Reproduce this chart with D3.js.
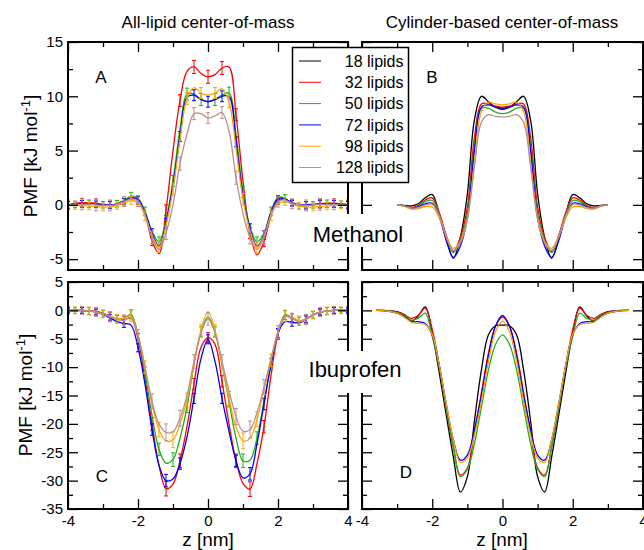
<!DOCTYPE html>
<html>
<head>
<meta charset="utf-8">
<script src="https://cdn.jsdelivr.net/npm/d3@7"></script>
<style>
    body { margin: 0; background: #fff; }
    svg { display: block; font-family: "Liberation Sans", Arial, sans-serif; }
</style>
</head>
<body>
<div id="chart"></div>
<script>
const lipidCounts = [18, 32, 50, 72, 98, 128];
const lipidColors = ["#000000", "#ff0000", "#1cb01c", "#0000ff", "#ffa500", "#bc8f8f"];

const xTicks = [-4, -2, 0, 2, 4];
const xMinorTicks = [-3, -1, 1, 3];
const yTicksMethanol = [-5, 0, 5, 10, 15];
const yMinorMethanol = [-2.5, 2.5, 7.5, 12.5];
const yTicksIbuprofen = [-35, -30, -25, -20, -15, -10, -5, 0, 5];
const yMinorIbuprofen = [-32.5, -27.5, -22.5, -17.5, -12.5, -7.5, -2.5, 2.5];

// z positions (nm) for the all-lipid profiles
const zAll = [-4.0, -3.8, -3.6, -3.4, -3.2, -3.0, -2.8, -2.6, -2.4, -2.2,
    -2.0, -1.8, -1.6, -1.4, -1.2, -1.0, -0.8, -0.6, -0.4, -0.2,
    0.0,
    0.2, 0.4, 0.6, 0.8, 1.0, 1.2, 1.4, 1.6, 1.8, 2.0,
    2.2, 2.4, 2.6, 2.8, 3.0, 3.2, 3.4, 3.6, 3.8, 4.0];

// panel A : methanol, all-lipid center-of-mass
const pmfA32 = [0.0, 0.15, 0.2, 0.2, 0.15, 0.05, 0.0, 0.05, 0.3, 0.6,
    0.4, -0.9, -3.3, -4.5, -0.5, 5.0, 9.6, 12.3, 12.7, 12.1,
    11.8,
    12.0, 12.6, 12.7, 8.3, 2.2, -2.6, -4.6, -3.4, -1.0, 0.4,
    0.5, 0.2, 0.0, -0.05, 0.0, 0.1, 0.15, 0.15, 0.1, 0.05];
const pmfA50 = [0.0, 0.05, 0.1, 0.1, 0.05, 0.0, -0.05, 0.1, 0.4, 0.8,
    0.6, -0.6, -2.4, -3.4, -1.4, 2.2, 7.0, 10.2, 10.2, 9.7,
    9.5,
    9.7, 10.1, 10.3, 6.5, 1.2, -2.0, -3.4, -2.6, -0.6, 0.7,
    0.6, 0.1, -0.1, -0.1, 0.0, 0.05, 0.1, 0.1, 0.05, 0.0];
const pmfA72 = [0.0, 0.05, 0.1, 0.1, 0.05, 0.0, 0.0, 0.1, 0.35, 0.65,
    0.5, -0.7, -2.6, -3.8, -1.7, 1.8, 6.3, 9.9, 10.1, 9.7,
    9.5,
    9.7, 10.0, 10.0, 5.8, 0.8, -2.2, -3.8, -2.8, -0.7, 0.55,
    0.55, 0.15, 0.0, 0.0, 0.05, 0.1, 0.1, 0.1, 0.05, 0.0];
const pmfA98 = [0.0, -0.05, -0.1, -0.1, -0.15, -0.2, -0.2, -0.1, 0.15, 0.4,
    0.2, -1.0, -2.8, -3.9, -1.9, 1.4, 6.0, 9.8, 10.8, 10.3,
    10.1,
    10.3, 10.7, 9.5, 5.2, 0.5, -2.4, -3.9, -2.9, -1.0, 0.1,
    0.3, 0.1, -0.1, -0.2, -0.2, -0.15, -0.1, -0.05, 0.0, 0.0];
const pmfA128 = [0.0, 0.0, 0.05, 0.05, 0.0, -0.05, -0.05, 0.05, 0.3, 0.55,
    0.35, -0.9, -3.0, -4.1, -2.6, 0.0, 3.8, 6.5, 8.4, 8.4,
    8.0,
    8.2, 8.5, 6.8, 2.5, -0.8, -3.0, -4.1, -3.0, -0.9, 0.3,
    0.45, 0.1, 0.0, -0.05, 0.0, 0.05, 0.05, 0.05, 0.0, 0.0];

const errA32 = [0.35, 0.35, 0.4, 0.4, 0.4, 0.35, 0.35, 0.3, 0.3, 0.3,
    0.35, 0.4, 0.45, 0.5, 0.5, 0.5, 0.55, 0.6, 0.6, 0.6,
    0.6,
    0.6, 0.6, 0.6, 0.55, 0.5, 0.5, 0.5, 0.45, 0.4, 0.35,
    0.3, 0.3, 0.3, 0.35, 0.35, 0.4, 0.4, 0.4, 0.35, 0.35];
const errA50 = [0.3, 0.3, 0.35, 0.35, 0.35, 0.3, 0.3, 0.3, 0.3, 0.35,
    0.4, 0.4, 0.45, 0.45, 0.5, 0.5, 0.5, 0.55, 0.55, 0.55,
    0.55,
    0.55, 0.55, 0.55, 0.5, 0.5, 0.5, 0.45, 0.45, 0.4, 0.4,
    0.35, 0.3, 0.3, 0.3, 0.3, 0.35, 0.35, 0.35, 0.3, 0.3];
const errA72 = [0.3, 0.3, 0.3, 0.3, 0.3, 0.3, 0.3, 0.25, 0.25, 0.3,
    0.3, 0.35, 0.4, 0.4, 0.45, 0.45, 0.45, 0.5, 0.5, 0.5,
    0.5,
    0.5, 0.5, 0.5, 0.45, 0.45, 0.45, 0.4, 0.4, 0.35, 0.3,
    0.3, 0.25, 0.25, 0.3, 0.3, 0.3, 0.3, 0.3, 0.3, 0.3];
const errA98 = [0.3, 0.35, 0.35, 0.35, 0.35, 0.35, 0.3, 0.3, 0.3, 0.35,
    0.4, 0.45, 0.5, 0.5, 0.55, 0.55, 0.55, 0.55, 0.5, 0.5,
    0.5,
    0.5, 0.5, 0.55, 0.55, 0.55, 0.55, 0.5, 0.5, 0.45, 0.4,
    0.35, 0.3, 0.3, 0.3, 0.35, 0.35, 0.35, 0.35, 0.35, 0.3];
const errA128 = [0.45, 0.5, 0.5, 0.55, 0.55, 0.5, 0.5, 0.45, 0.45, 0.45,
    0.5, 0.5, 0.55, 0.55, 0.6, 0.6, 0.6, 0.6, 0.55, 0.5,
    0.5,
    0.5, 0.55, 0.6, 0.6, 0.6, 0.6, 0.55, 0.55, 0.5, 0.5,
    0.45, 0.45, 0.45, 0.5, 0.5, 0.55, 0.55, 0.5, 0.5, 0.45];

// panel C : ibuprofen, all-lipid center-of-mass
const pmfC32 = [0.0, 0.0, 0.05, -0.05, -0.2, -0.5, -1.0, -1.5, -1.7, -1.3,
    -5.0, -12.0, -20.0, -27.3, -31.4, -30.6, -26.5, -20.5, -13.0, -6.5,
    -4.8,
    -6.0, -12.5, -20.0, -26.5, -30.5, -31.5, -27.0, -20.5, -11.5, -4.2,
    -1.1, -1.3, -1.9, -1.5, -0.8, -0.3, -0.1, 0.0, 0.05, 0.0];
const pmfC50 = [0.0, -0.05, -0.1, -0.15, -0.3, -0.6, -1.1, -1.6, -1.4, -0.7,
    -4.3, -11.0, -18.5, -24.5, -26.9, -26.3, -22.5, -17.0, -9.5, -3.8,
    -1.2,
    -3.8, -9.5, -16.0, -22.5, -26.5, -26.4, -22.5, -16.0, -9.5, -3.8,
    -0.8, -1.2, -1.9, -1.5, -0.8, -0.35, -0.1, 0.0, 0.0, 0.0];
const pmfC72 = [0.0, 0.0, 0.0, -0.1, -0.3, -0.7, -1.3, -2.0, -2.3, -2.6,
    -6.5, -13.0, -21.0, -27.3, -30.0, -29.7, -27.0, -22.3, -15.5, -8.5,
    -5.1,
    -9.0, -15.5, -21.3, -26.5, -29.5, -28.8, -23.5, -16.5, -9.5, -4.0,
    -2.0, -2.1, -2.2, -1.6, -0.8, -0.3, -0.1, 0.0, 0.0, 0.0];
const pmfC98 = [0.0, 0.0, 0.0, -0.1, -0.3, -0.6, -1.0, -1.5, -1.4, -1.0,
    -4.3, -10.0, -16.5, -21.0, -23.0, -22.8, -20.0, -15.8, -9.5, -3.5,
    -0.2,
    -3.5, -9.5, -15.5, -20.5, -23.0, -22.6, -19.2, -14.0, -8.8, -3.8,
    -1.0, -1.2, -1.8, -1.5, -0.8, -0.3, -0.1, 0.0, 0.0, 0.0];
const pmfC128 = [0.0, 0.0, 0.0, -0.1, -0.3, -0.6, -1.1, -1.6, -1.7, -1.3,
    -4.5, -10.0, -16.0, -20.0, -21.5, -21.4, -19.0, -15.0, -9.0, -4.0,
    -1.5,
    -4.0, -9.0, -14.2, -18.7, -21.3, -21.0, -18.0, -13.5, -8.5, -3.8,
    -1.0, -1.4, -2.0, -1.6, -0.8, -0.3, -0.1, 0.0, 0.0, 0.0];

const errC32 = [0.5, 0.5, 0.6, 0.6, 0.6, 0.6, 0.7, 0.7, 0.7, 0.8,
    0.9, 1.0, 1.1, 1.2, 1.3, 1.3, 1.2, 1.1, 1.0, 0.9,
    0.9,
    0.9, 1.0, 1.1, 1.2, 1.3, 1.3, 1.2, 1.1, 1.0, 0.9,
    0.8, 0.7, 0.7, 0.7, 0.6, 0.6, 0.6, 0.6, 0.5, 0.5];
const errC50 = [0.5, 0.5, 0.5, 0.6, 0.6, 0.6, 0.6, 0.7, 0.7, 0.8,
    0.9, 1.0, 1.0, 1.1, 1.2, 1.2, 1.1, 1.0, 1.0, 0.9,
    0.9,
    0.9, 1.0, 1.0, 1.1, 1.2, 1.2, 1.1, 1.0, 1.0, 0.9,
    0.8, 0.7, 0.7, 0.6, 0.6, 0.6, 0.6, 0.5, 0.5, 0.5];
const errC72 = [0.4, 0.4, 0.5, 0.5, 0.5, 0.6, 0.6, 0.6, 0.7, 0.7,
    0.8, 0.9, 1.0, 1.0, 1.1, 1.1, 1.0, 1.0, 0.9, 0.8,
    0.8,
    0.8, 0.9, 1.0, 1.0, 1.1, 1.1, 1.0, 1.0, 0.9, 0.8,
    0.7, 0.7, 0.6, 0.6, 0.6, 0.5, 0.5, 0.5, 0.4, 0.4];
const errC98 = [0.6, 0.6, 0.6, 0.7, 0.7, 0.7, 0.8, 0.8, 0.8, 0.9,
    1.0, 1.1, 1.2, 1.3, 1.4, 1.4, 1.3, 1.2, 1.1, 1.0,
    1.0,
    1.0, 1.1, 1.2, 1.3, 1.4, 1.4, 1.3, 1.2, 1.1, 1.0,
    0.9, 0.8, 0.8, 0.8, 0.7, 0.7, 0.7, 0.6, 0.6, 0.6];
const errC128 = [0.7, 0.7, 0.7, 0.8, 0.8, 0.8, 0.9, 0.9, 0.9, 1.0,
    1.1, 1.2, 1.3, 1.4, 1.5, 1.5, 1.4, 1.3, 1.2, 1.1,
    1.1,
    1.1, 1.2, 1.3, 1.4, 1.5, 1.5, 1.4, 1.3, 1.2, 1.1,
    1.0, 0.9, 0.9, 0.9, 0.8, 0.8, 0.8, 0.7, 0.7, 0.7];

// panel B : methanol, cylinder-based center-of-mass
const zCylB = [-3.0, -2.8, -2.6, -2.4, -2.2, -2.0, -1.8, -1.6, -1.4, -1.2, -1.0, -0.8, -0.6, -0.4, -0.2,
    0.0,
    0.2, 0.4, 0.6, 0.8, 1.0, 1.2, 1.4, 1.6, 1.8, 2.0, 2.2, 2.4, 2.6, 2.8, 3.0];
const pmfB18 = [0.0, -0.05, -0.1, 0.1, 0.65, 0.95, -0.9, -3.1, -4.9, -3.0, 1.0, 7.8, 10.0, 9.5, 9.0,
    8.8,
    9.0, 9.5, 10.0, 7.8, 1.0, -3.0, -4.9, -3.1, -0.9, 0.95, 0.65, 0.1, -0.1, -0.05, 0.0];
const pmfB32 = [0.0, -0.1, -0.25, -0.05, 0.45, 0.65, -0.7, -2.8, -4.3, -3.0, -0.2, 6.2, 9.3, 9.3, 9.1,
    9.0,
    9.1, 9.3, 9.3, 6.2, -0.2, -3.0, -4.3, -2.8, -0.7, 0.65, 0.45, -0.05, -0.25, -0.1, 0.0];
const pmfB50 = [0.0, -0.1, -0.3, -0.15, 0.3, 0.4, -0.9, -3.0, -4.4, -3.3, -0.8, 5.3, 8.9, 8.9, 8.55,
    8.4,
    8.55, 8.9, 8.9, 5.3, -0.8, -3.3, -4.4, -3.0, -0.9, 0.4, 0.3, -0.15, -0.3, -0.1, 0.0];
const pmfB72 = [0.0, -0.1, -0.3, -0.2, 0.1, 0.15, -1.1, -3.3, -4.85, -3.8, -1.2, 5.0, 9.0, 9.2, 9.0,
    8.9,
    9.0, 9.2, 9.0, 5.0, -1.2, -3.8, -4.85, -3.3, -1.1, 0.15, 0.1, -0.2, -0.3, -0.1, 0.0];
const pmfB98 = [0.0, -0.15, -0.4, -0.35, -0.15, -0.2, -1.2, -2.9, -4.0, -3.4, -1.2, 3.8, 8.6, 9.45, 9.3,
    9.2,
    9.3, 9.45, 8.6, 3.8, -1.2, -3.4, -4.0, -2.9, -1.2, -0.2, -0.15, -0.35, -0.4, -0.15, 0.0];
const pmfB128 = [0.0, -0.1, -0.3, -0.25, 0.0, 0.05, -1.0, -3.0, -4.2, -3.5, -1.4, 3.5, 7.6, 8.3, 8.15,
    8.1,
    8.15, 8.3, 7.6, 3.5, -1.4, -3.5, -4.2, -3.0, -1.0, 0.05, 0.0, -0.25, -0.3, -0.1, 0.0];

// panel D : ibuprofen, cylinder-based center-of-mass
const zCylD = [-3.6, -3.4, -3.2, -3.0, -2.8, -2.6, -2.4, -2.2, -2.0, -1.8, -1.6, -1.4, -1.2, -1.0, -0.8, -0.6, -0.4, -0.2,
    0.0,
    0.2, 0.4, 0.6, 0.8, 1.0, 1.2, 1.4, 1.6, 1.8, 2.0, 2.2, 2.4, 2.6, 2.8, 3.0, 3.2, 3.4, 3.6];
const pmfD18 = [0.0, 0.0, -0.1, -0.2, -0.8, -1.9, -1.0, 0.6, -4.0, -11.0, -18.5, -25.8, -32.0, -29.3, -19.5, -10.5, -4.3, -2.7,
    -2.6,
    -2.7, -4.3, -10.5, -19.5, -29.3, -32.0, -25.8, -18.5, -11.0, -4.0, 0.6, -1.0, -1.9, -0.8, -0.2, -0.1, 0.0, 0.0];
const pmfD32 = [0.0, 0.0, -0.1, -0.3, -0.7, -1.4, -0.9, 0.4, -3.4, -9.7, -17.3, -24.0, -29.0, -27.8, -21.5, -14.5, -7.5, -2.8,
    -1.2,
    -2.8, -7.5, -14.5, -21.5, -27.8, -29.0, -24.0, -17.3, -9.7, -3.4, 0.4, -0.9, -1.4, -0.7, -0.3, -0.1, 0.0, 0.0];
const pmfD50 = [0.0, -0.05, -0.15, -0.4, -0.9, -1.7, -1.4, -0.5, -4.6, -10.0, -17.3, -24.0, -29.3, -28.0, -23.5, -17.0, -10.5, -6.0,
    -4.3,
    -6.0, -10.5, -17.0, -23.5, -28.0, -29.3, -24.0, -17.3, -10.0, -4.6, -0.5, -1.4, -1.7, -0.9, -0.4, -0.15, -0.05, 0.0];
const pmfD72 = [0.0, -0.05, -0.2, -0.5, -1.1, -2.0, -2.0, -2.3, -4.3, -9.7, -16.5, -22.8, -26.4, -25.5, -21.0, -15.0, -8.0, -2.8,
    -0.9,
    -2.8, -8.0, -15.0, -21.0, -25.5, -26.4, -22.8, -16.5, -9.7, -4.3, -2.3, -2.0, -2.0, -1.1, -0.5, -0.2, -0.05, 0.0];
const pmfD98 = [0.0, -0.05, -0.2, -0.5, -1.2, -2.1, -2.3, -2.5, -4.2, -9.7, -16.5, -22.8, -26.8, -26.0, -22.0, -16.0, -9.0, -3.8,
    -1.9,
    -3.8, -9.0, -16.0, -22.0, -26.0, -26.8, -22.8, -16.5, -9.7, -4.2, -2.5, -2.3, -2.1, -1.2, -0.5, -0.2, -0.05, 0.0];

const width = 644, height = 550;

class PmfPanel {
    constructor(svg, cfg) {
        this.cfg = cfg;
        this.x = d3.scaleLinear().domain([-4, 4]).range([cfg.left, cfg.right]);
        this.y = d3.scaleLinear().domain(cfg.yDomain).range([cfg.bottom, cfg.top]);
        this.g = svg.append("g");

        this.g.append("clipPath")
            .attr("id", "clip-" + cfg.id)
            .append("rect")
            .attr("x", cfg.left)
            .attr("y", cfg.top)
            .attr("width", cfg.right - cfg.left)
            .attr("height", cfg.bottom - cfg.top);

        this.plot = this.g.append("g").attr("clip-path", `url(#clip-${cfg.id})`);
    }

    addSeries(z, values, color, errors, parity) {
        if (errors) {
            const bars = this.plot.append("g")
                .attr("stroke", color)
                .attr("stroke-width", 1);
            z.forEach((zi, i) => {
                if (i % 2 !== parity) return;
                const xi = this.x(zi);
                const lo = this.y(values[i] - errors[i]);
                const hi = this.y(values[i] + errors[i]);
                bars.append("line").attr("x1", xi).attr("x2", xi).attr("y1", lo).attr("y2", hi);
                bars.append("line").attr("x1", xi - 2).attr("x2", xi + 2).attr("y1", lo).attr("y2", lo);
                bars.append("line").attr("x1", xi - 2).attr("x2", xi + 2).attr("y1", hi).attr("y2", hi);
            });
        }

        const line = d3.line()
            .x((d, i) => this.x(z[i]))
            .y(d => this.y(d))
            .curve(d3.curveCatmullRom.alpha(0.5));

        this.plot.append("path")
            .datum(values)
            .attr("fill", "none")
            .attr("stroke", color)
            .attr("stroke-width", 1.3)
            .attr("d", line);
    }

    drawAxes() {
        const c = this.cfg;
        const style = g => {
            g.select(".domain").remove();
            g.attr("font-family", null).attr("font-size", 15);
            g.selectAll("line").attr("stroke-width", 1.3);
            g.selectAll("text").attr("fill", "#000");
        };
        // xmgrace style labels: plain hyphen for negatives
        const axis = (make, values, size, labels, pad) => {
            const a = make.tickValues(values).tickSizeInner(-size).tickSizeOuter(0).tickPadding(pad);
            a.tickFormat(labels ? (d => String(d)) : "");
            return a;
        };

        [[xTicks, 10], [xMinorTicks, 5]].forEach(([vals, size], k) => {
            this.g.append("g")
                .attr("transform", `translate(0,${c.bottom})`)
                .call(axis(d3.axisBottom(this.x), vals, size, c.xLabels && k === 0, 6))
                .call(style);
            this.g.append("g")
                .attr("transform", `translate(0,${c.top})`)
                .call(axis(d3.axisTop(this.x), vals, size, false, 0))
                .call(style);
        });

        [[c.yTicks, 10], [c.yMinor, 5]].forEach(([vals, size], k) => {
            this.g.append("g")
                .attr("transform", `translate(${c.left},0)`)
                .call(axis(d3.axisLeft(this.y), vals, size, c.yLabels && k === 0, 5))
                .call(style);
            this.g.append("g")
                .attr("transform", `translate(${c.right},0)`)
                .call(axis(d3.axisRight(this.y), vals, size, false, 0))
                .call(style);
        });

        this.g.append("rect")
            .attr("x", c.left)
            .attr("y", c.top)
            .attr("width", c.right - c.left)
            .attr("height", c.bottom - c.top)
            .attr("fill", "none")
            .attr("stroke", "#000")
            .attr("stroke-width", 2);

        this.g.append("text")
            .attr("x", c.letterX)
            .attr("y", c.letterY)
            .attr("text-anchor", "middle")
            .attr("font-size", 17)
            .text(c.letter);
    }
}

const svg = d3.select("#chart")
    .append("svg")
    .attr("width", width)
    .attr("height", height);

const methanol = {yDomain: [-6, 15], yTicks: yTicksMethanol, yMinor: yMinorMethanol};
const ibuprofen = {yDomain: [-35, 5], yTicks: yTicksIbuprofen, yMinor: yMinorIbuprofen};

const panelA = new PmfPanel(svg, Object.assign({id: "A", left: 68, right: 348, top: 42, bottom: 270,
    yLabels: true, xLabels: false, letter: "A", letterX: 101, letterY: 83}, methanol));
const panelB = new PmfPanel(svg, Object.assign({id: "B", left: 362, right: 643, top: 42, bottom: 270,
    yLabels: false, xLabels: false, letter: "B", letterX: 432, letterY: 83}, methanol));
const panelC = new PmfPanel(svg, Object.assign({id: "C", left: 68, right: 348, top: 282, bottom: 509,
    yLabels: true, xLabels: true, letter: "C", letterX: 102, letterY: 482}, ibuprofen));
const panelD = new PmfPanel(svg, Object.assign({id: "D", left: 362, right: 643, top: 282, bottom: 509,
    yLabels: false, xLabels: true, letter: "D", letterX: 406, letterY: 478}, ibuprofen));

// left panels: 32..128 lipids with error bars
[[pmfA32, errA32], [pmfA50, errA50], [pmfA72, errA72], [pmfA98, errA98], [pmfA128, errA128]]
    .forEach(([v, e], k) => panelA.addSeries(zAll, v, lipidColors[k + 1], e, k % 2));
[[pmfC32, errC32], [pmfC50, errC50], [pmfC72, errC72], [pmfC98, errC98], [pmfC128, errC128]]
    .forEach(([v, e], k) => panelC.addSeries(zAll, v, lipidColors[k + 1], e, k % 2));

[pmfB18, pmfB32, pmfB50, pmfB72, pmfB98, pmfB128]
    .forEach((v, k) => panelB.addSeries(zCylB, v, lipidColors[k], null, 0));
[pmfD18, pmfD32, pmfD50, pmfD72, pmfD98]
    .forEach((v, k) => panelD.addSeries(zCylD, v, lipidColors[k], null, 0));

[panelA, panelB, panelC, panelD].forEach(p => p.drawAxes());

// column titles and axis labels
svg.append("text").attr("x", 208).attr("y", 27.5).attr("text-anchor", "middle")
    .attr("font-size", 17).text("All-lipid center-of-mass");
svg.append("text").attr("x", 502).attr("y", 27.5).attr("text-anchor", "middle")
    .attr("font-size", 17).text("Cylinder-based center-of-mass");

[208, 502].forEach(x => {
    svg.append("text").attr("x", x).attr("y", 546).attr("text-anchor", "middle")
        .attr("font-size", 19).text("z [nm]");
});

[[37, 156], [32, 395]].forEach(([x, y]) => {
    const t = svg.append("text")
        .attr("transform", `translate(${x},${y}) rotate(-90)`)
        .attr("text-anchor", "middle")
        .attr("font-size", 19);
    t.append("tspan").text("PMF [kJ mol");
    t.append("tspan").attr("dy", -7).attr("font-size", 13).text("-1");
    t.append("tspan").attr("dy", 7).text("]");
});

// molecule labels sit over the gap between the panels
function moleculeLabel(name, box, tx, ty) {
    svg.append("rect")
        .attr("x", box[0]).attr("y", box[1]).attr("width", box[2]).attr("height", box[3])
        .attr("fill", "#fff");
    svg.append("text")
        .attr("x", tx).attr("y", ty)
        .attr("text-anchor", "middle")
        .attr("font-size", 22)
        .text(name);
}
moleculeLabel("Methanol", [308, 214, 100, 33], 358, 242);
moleculeLabel("Ibuprofen", [305, 351, 100, 42], 355, 377);

// legend
const legend = svg.append("g").attr("transform", "translate(292.5,47.5)");
legend.append("rect")
    .attr("width", 116)
    .attr("height", 135)
    .attr("fill", "#fff")
    .attr("stroke", "#000")
    .attr("stroke-width", 1.5);
const entry = legend.selectAll("g.entry")
    .data(lipidCounts)
    .enter()
    .append("g")
    .attr("class", "entry")
    .attr("transform", (d, i) => `translate(0,${13.5 + i * 21.3})`);
entry.append("line")
    .attr("x1", 6.5).attr("x2", 28.5)
    .attr("stroke", (d, i) => lipidColors[i])
    .attr("stroke-width", 1);
entry.append("text")
    .attr("x", 111)
    .attr("dy", "0.36em")
    .attr("text-anchor", "end")
    .attr("font-size", 16)
    .text(d => `${d} lipids`);
</script>
</body>
</html>
